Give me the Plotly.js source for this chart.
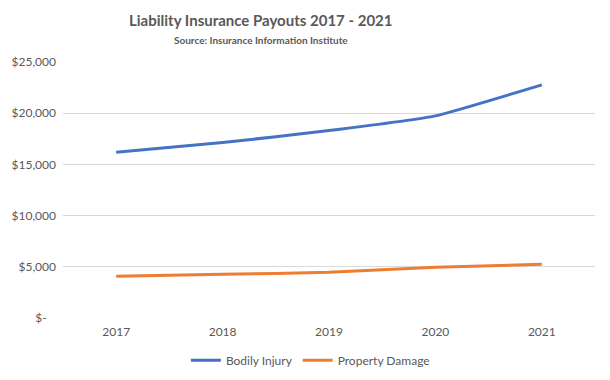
<!DOCTYPE html>
<html><head><meta charset="utf-8">
<script src="https://cdn.plot.ly/plotly-3.0.1.min.js"></script>
<style>body{margin:0;background:#fff}</style>
</head><body>
<div id="chart" style="width:610px;height:380px"></div>
<script>
const years = ["2017", "2018", "2019", "2020", "2021"];
const bodilyInjury = [16190, 17130, 18300, 19740, 22770];
const propertyDamage = [4070, 4270, 4460, 4950, 5250];
const yTickVals = [0, 5000, 10000, 15000, 20000, 25000];
const yTickText = ["$-\u00a0\u00a0\u00a0", "$5,000", "$10,000", "$15,000", "$20,000", "$25,000"];

const fontFam = "Lato, 'Open Sans', sans-serif";
const traces = [
  {x: years, y: bodilyInjury, name: "Bodily Injury", type: "scatter", mode: "lines",
   line: {color: "#4472C4", width: 3, shape: "spline", smoothing: 0.4}},
  {x: years, y: propertyDamage, name: "Property Damage", type: "scatter", mode: "lines",
   line: {color: "#ED7D31", width: 3, shape: "spline", smoothing: 0.4}}
];
const layout = {
  width: 610, height: 380,
  margin: {l: 63, r: 15, t: 62, b: 62, autoexpand: false},
  paper_bgcolor: "#fff", plot_bgcolor: "#fff",
  font: {family: fontFam, color: "#595959", size: 12},
  annotations: [
    {text: "<b>Liability Insurance Payouts 2017 - 2021</b>", xref: "paper", yref: "paper",
     x: 0.372, y: 1, yshift: 42, xanchor: "center", yanchor: "middle", showarrow: false,
     font: {size: 15, color: "#595959", family: fontFam}},
    {text: "<b>Source: Insurance Information Institute</b>", xref: "paper", yref: "paper",
     x: 0.372, y: 1, yshift: 22, xanchor: "center", yanchor: "middle", showarrow: false,
     font: {size: 10, color: "#595959", family: fontFam}}],
  xaxis: {type: "category", range: [-0.5, 4.5], showgrid: false, zeroline: false,
          showline: false, ticks: "", ticklabelstandoff: 5, tickfont: {size: 12, color: "#595959"}},
  yaxis: {range: [0, 25000], tickvals: yTickVals, ticktext: yTickText, showgrid: true,
          gridcolor: "#D9D9D9", gridwidth: 1, zeroline: false, showline: false, ticks: "",
          ticklabelstandoff: 6, tickfont: {size: 12, color: "#595959"}},
  showlegend: true,
  legend: {orientation: "h", x: 0.465, xanchor: "center", y: -0.165, yanchor: "middle",
           font: {size: 12, color: "#595959"}, itemwidth: 30}
};
Plotly.newPlot("chart", traces, layout, {displayModeBar: false, staticPlot: true});
</script>
</body></html>
